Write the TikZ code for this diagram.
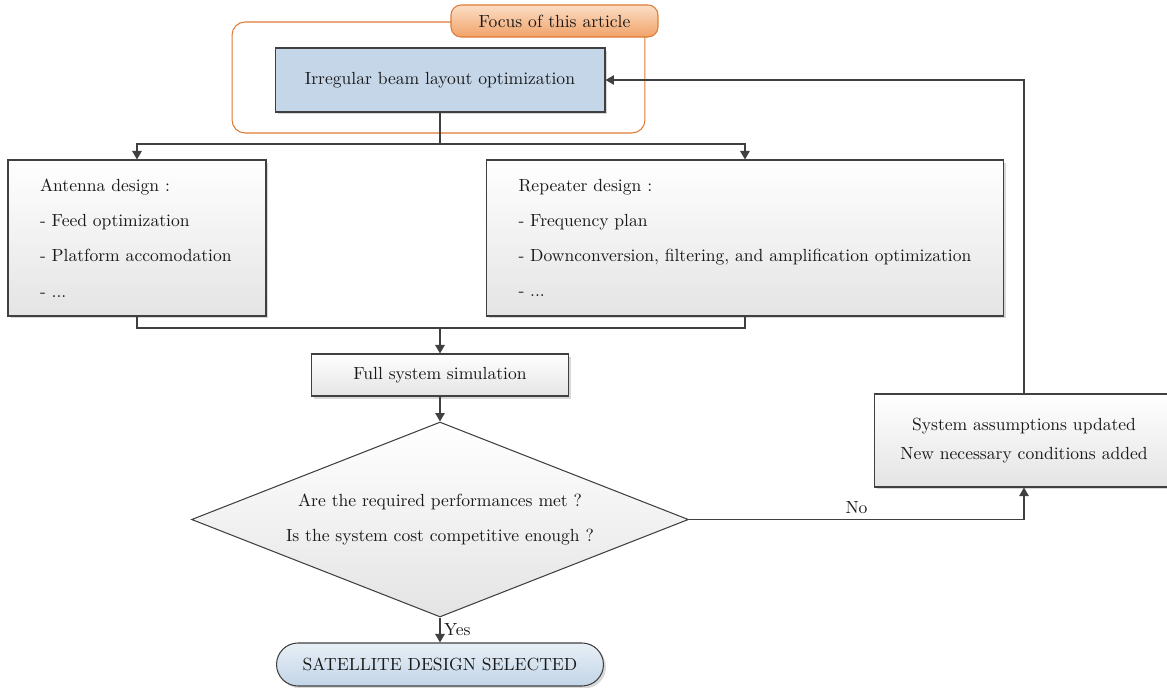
\documentclass[tikz,border=0pt]{standalone}
\usepackage{tikz}
\usetikzlibrary{shapes.geometric,arrows.meta,shadows}

\definecolor{linegray}{RGB}{64,64,64}
\definecolor{beamblue}{RGB}{196,214,232}
\definecolor{endblue}{RGB}{194,213,232}
\definecolor{endlight}{RGB}{232,239,246}
\definecolor{boxgray}{RGB}{228,228,228}
\definecolor{focusorange}{RGB}{224,122,52}
\definecolor{focuslight}{RGB}{251,222,198}
\definecolor{focusdark}{RGB}{241,162,104}

\tikzset{
	flow/.style={draw=linegray, line width=0.7pt},
	arr/.style={flow, -{Triangle[length=1.7mm,width=1.9mm]}},
	softshadow/.style={drop shadow={shadow xshift=0.5mm, shadow yshift=-0.5mm, fill=black!30, opacity=0.5}},
	graybox/.style={flow, line width=0.6pt, rectangle, top color=white, bottom color=boxgray, softshadow, inner sep=0pt},
	listbox/.style={graybox, align=left, inner xsep=0.64cm,
		font=\fontsize{10}{20}\selectfont, minimum height=3.12cm},
}

\begin{document}
\begin{tikzpicture}[x=0.02cm, y=-0.02cm, font=\fontsize{10}{12}\selectfont, text=black!90]
	\useasboundingbox (0,0) rectangle (1167,687);

	% focus frame and its label
	\node (frame) [draw=focusorange, line width=0.6pt, rounded corners=0.26cm,
		minimum width=8.26cm, minimum height=2.22cm] at (438.5,77.5) {};
	\node (focus) [draw=focusorange, line width=0.6pt, rounded corners=0.2cm,
		top color=focuslight, bottom color=focusdark,
		minimum width=4.14cm, minimum height=0.64cm] at (554.5,21) {Focus of this article};

	\node (beam) [flow, line width=0.6pt, fill=beamblue, softshadow, minimum width=6.6cm, minimum height=1.28cm]
		at (440,80) {Irregular beam layout optimization};

	\node (antenna) [listbox, text width=3.88cm] at (137,238)
		{Antenna design :\\- Feed optimization\\- Platform accomodation\\- ...};
	\node (repeater) [listbox, inner xsep=0.5cm, minimum width=10.34cm, anchor=west] at (486,238)
		{Repeater design :\\- Frequency plan\\- Downconversion, filtering, and amplification optimization\\- ...};

	\node (sim) [graybox, minimum width=5.14cm, minimum height=0.84cm] at (440,375) {Full system simulation};

	\node (check) [flow, line width=0.6pt, diamond, aspect=2.55, inner sep=0pt, top color=white, bottom color=boxgray,
		minimum width=9.94cm, minimum height=3.9cm, align=center,
		font=\fontsize{10}{19.4}\selectfont] at (440,519.5)
		{Are the required performances met ?\\Is the system cost competitive enough ?};

	\node (selected) [flow, line width=0.6pt, rounded corners=0.43cm, top color=endlight, bottom color=endblue,
		softshadow, minimum width=6.54cm, minimum height=0.86cm] at (440,664.5)
		{SATELLITE DESIGN SELECTED};

	\node (update) [graybox, align=center, minimum width=6cm, minimum height=1.86cm,
		font=\fontsize{10}{16.5}\selectfont] at (1024,440.5)
		{System assumptions updated\\New necessary conditions added};

	\coordinate (split) at (440,144);
	\coordinate (join) at (440,328);

	\draw[flow] (beam.south) -- (split);
	\draw[arr] (split) -| (antenna.north);
	\draw[arr] (split) -| (repeater.north);
	\draw[flow] (antenna.south) |- (join);
	\draw[flow] (repeater.south) |- (join);
	\draw[arr] (join) -- (sim.north);
	\draw[arr] (sim.south) -- (check.north);
	\draw[arr] (check.south) -- (selected.north) node[midway, right, inner sep=2pt] {Yes};
	\draw[arr] (check.east) -| (update.south) node[pos=0.25, above, inner sep=3pt] {No};
	\draw[arr] (update.north) |- (beam.east);

\end{tikzpicture}
\end{document}
